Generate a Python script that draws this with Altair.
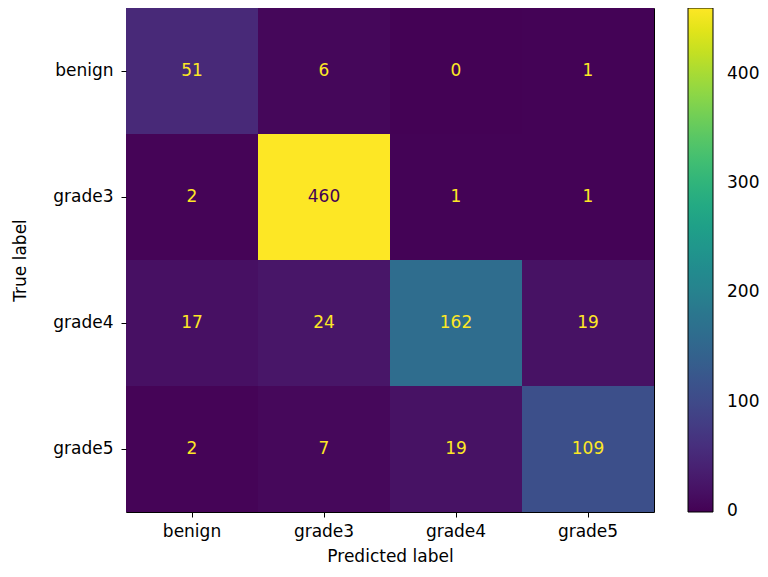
import altair as alt
import pandas as pd

labels = ["benign", "grade3", "grade4", "grade5"]
row_benign = [51, 6, 0, 1]
row_grade3 = [2, 460, 1, 1]
row_grade4 = [17, 24, 162, 19]
row_grade5 = [2, 7, 19, 109]
matrix = [row_benign, row_grade3, row_grade4, row_grade5]
colorbar_ticks = [0, 100, 200, 300, 400]

records = []
for t, row in zip(labels, matrix):
    for p, v in zip(labels, row):
        records.append({"true": t, "pred": p, "value": v})
df = pd.DataFrame(records)

vmax = max(max(r) for r in matrix)
vmin = min(min(r) for r in matrix)
thresh = (vmax + vmin) / 2

FONT = "DejaVu Sans"
# tiny extension below 0 keeps the "0" colorbar label centred on its tick
cscale = alt.Scale(scheme="viridis", domain=[vmin - 1, vmax])

base = alt.Chart(df).encode(
    x=alt.X("pred:N", sort=labels,
            scale=alt.Scale(paddingInner=0, paddingOuter=0),
            axis=alt.Axis(title="Predicted label", labelAngle=0, domain=False,
                          tickSize=5, tickColor="black", labelPadding=6,
                          titlePadding=9)),
    y=alt.Y("true:N", sort=labels,
            scale=alt.Scale(paddingInner=0, paddingOuter=0),
            axis=alt.Axis(title="True label", domain=False, tickSize=5,
                          tickColor="black", labelPadding=8, titlePadding=23)),
)

rect = base.mark_rect().encode(
    color=alt.Color("value:Q", scale=cscale,
                    legend=alt.Legend(type="gradient", title=None, orient="none",
                                      legendX=562, legendY=0,
                                      direction="vertical",
                                      gradientLength=504, gradientThickness=25,
                                      gradientStrokeColor="black",
                                      gradientStrokeWidth=1,
                                      values=colorbar_ticks, labelOffset=14,
                                      labelFontSize=17, labelFont=FONT,
                                      labelColor="black")),
)

text = base.mark_text(fontSize=17, font=FONT).encode(
    text=alt.Text("value:Q"),
    color=alt.condition(alt.datum.value > thresh, alt.value("#440154"),
                        alt.value("#fde725")),
)

chart = (rect + text).properties(
    width=528, height=504,
    autosize=alt.AutoSizeParams(type="none"),
    padding={"left": 118, "top": 0, "right": 106, "bottom": 56},
).configure_view(stroke="black", strokeWidth=1).configure_axis(
    labelFont=FONT, titleFont=FONT, labelFontSize=17, titleFontSize=17,
    labelColor="black", titleColor="black", titleFontWeight="normal",
    tickWidth=1,
)

chart.save("out.html", embed_options={"renderer": "svg", "actions": False})
